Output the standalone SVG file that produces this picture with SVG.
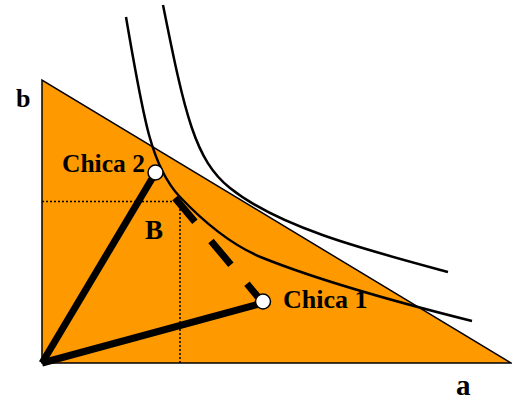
<svg xmlns="http://www.w3.org/2000/svg" width="512" height="400" viewBox="0 0 512 400">
<style>
.lbl{font-family:"Liberation Serif","Times New Roman",serif;font-weight:bold;fill:#000}
.curve{fill:none;stroke:#000;stroke-width:2.5}
.thick{stroke:#000;stroke-width:7;fill:none}
.dot{stroke:#000;stroke-width:1.5;stroke-dasharray:2 2;fill:none}
.pt{fill:#fff;stroke:#000;stroke-width:1.5}
</style>
<rect width="512" height="400" fill="#fff"/>
<g id="budget">
<polygon points="42,80 42,363 511,363" fill="#FF9900" stroke="#000" stroke-width="1.5"/>
</g>
<g id="guides">
<line class="dot" x1="42" y1="201.5" x2="174" y2="201.5"/>
<line class="dot" x1="180" y1="201" x2="180" y2="363"/>
</g>
<g id="curves">
<path class="curve" d="M126,17 C144,123 152,167.6 180,197 C215,233.75 243,250 263,258 C323,282 412,306 472,321"/>
<path class="curve" d="M163,5 C185,115 195,160 230,188 C280,228 368,250.4 448,272"/>
</g>
<g id="connectors">
<line class="thick" x1="42" y1="363" x2="153" y2="177"/>
<line class="thick" x1="42" y1="363" x2="259" y2="304"/>
<line class="thick" x1="175" y1="198" x2="258" y2="297" stroke-dasharray="31 25"/>
</g>
<g id="chica2">
<circle class="pt" cx="155.5" cy="172.5" r="7.5"/>
<text class="lbl" x="62" y="172" font-size="25.5">Chica 2</text>
</g>
<g id="chica1">
<circle class="pt" cx="263" cy="301.5" r="7.5"/>
<text class="lbl" x="283" y="308" font-size="26">Chica 1</text>
</g>
<g id="labels">
<text class="lbl" x="145" y="239" font-size="27">B</text>
<text class="lbl" x="16" y="107" font-size="26">b</text>
<text class="lbl" x="456" y="395" font-size="29">a</text>
</g>
</svg>
